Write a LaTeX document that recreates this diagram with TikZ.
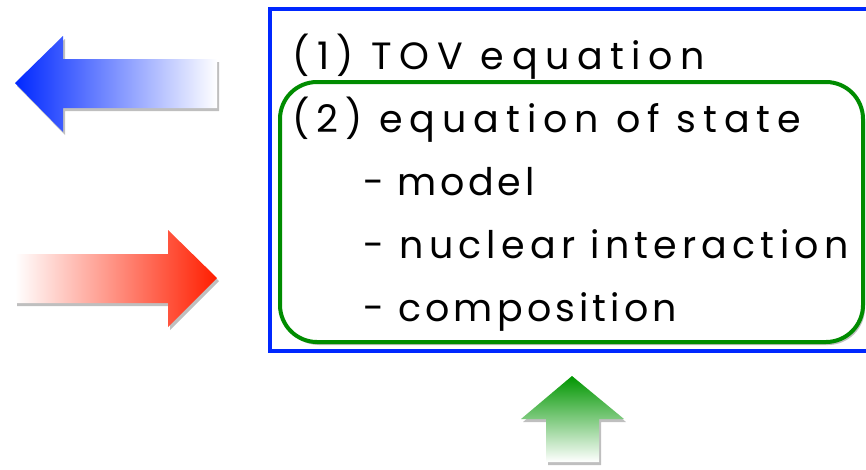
\documentclass[tikz,border=0pt]{standalone}
\usepackage{fontspec}
\setmainfont{Poppins}[LetterSpace=11,WordSpace=1.0]
\usetikzlibrary{shadows}
\definecolor{myblue}{RGB}{0,40,255}
\definecolor{myred}{RGB}{255,30,0}
\definecolor{mygreen}{RGB}{0,140,0}
\definecolor{arrowgreen}{RGB}{0,150,0}
\tikzset{
  txt/.style={anchor=base west, inner sep=0pt, font=\fontsize{38}{42}\selectfont},
  shd/.style={drop shadow={shadow xshift=2pt, shadow yshift=-3pt, opacity=0.25, fill=black}},
}
\begin{document}
\begin{tikzpicture}[x=1pt,y=-1pt]
\clip (0,0) rectangle (866,469);
\fill[white] (0,0) rectangle (866,469);
% blue frame
\draw[myblue, line width=4pt] (900,9) -- (270,9) -- (270,351) -- (900,351);
% green rounded box
\draw[mygreen, line width=4pt, rounded corners=37pt, shd, fill=white] (280,82) rectangle (863,342);
% texts
\node[txt] (t1) at (292,69) {\addfontfeature{LetterSpace=20}(1) TOV equation};
\node[txt] (t2) at (292,132) {\addfontfeature{LetterSpace=18.2}(2) equation of state};
\node[txt] (t3) at (363,195) {\addfontfeature{LetterSpace=9.5}- model};
\node[txt] (t4) at (363,258) {\addfontfeature{LetterSpace=13.7}- nuclear interaction};
\node[txt] (t5) at (363,321) {\addfontfeature{LetterSpace=10.8}- composition};
% blue arrow (left)
\path[shd, left color=myblue, right color=white]
  (15,83) -- (63,36) -- (63,59) -- (217,59) -- (217,108) -- (63,108) -- (63,132) -- cycle;
% red arrow (right)
\path[shd, left color=white, right color=myred]
  (15,254) -- (168,254) -- (168,230) -- (217,278) -- (168,327) -- (168,303) -- (15,303) -- cycle;
% green arrow (up)
\path[shd, top color=arrowgreen, bottom color=white]
  (572,376) -- (624,419) -- (599,419) -- (599,462) -- (546,462) -- (546,419) -- (521,419) -- cycle;
\end{tikzpicture}
\end{document}
